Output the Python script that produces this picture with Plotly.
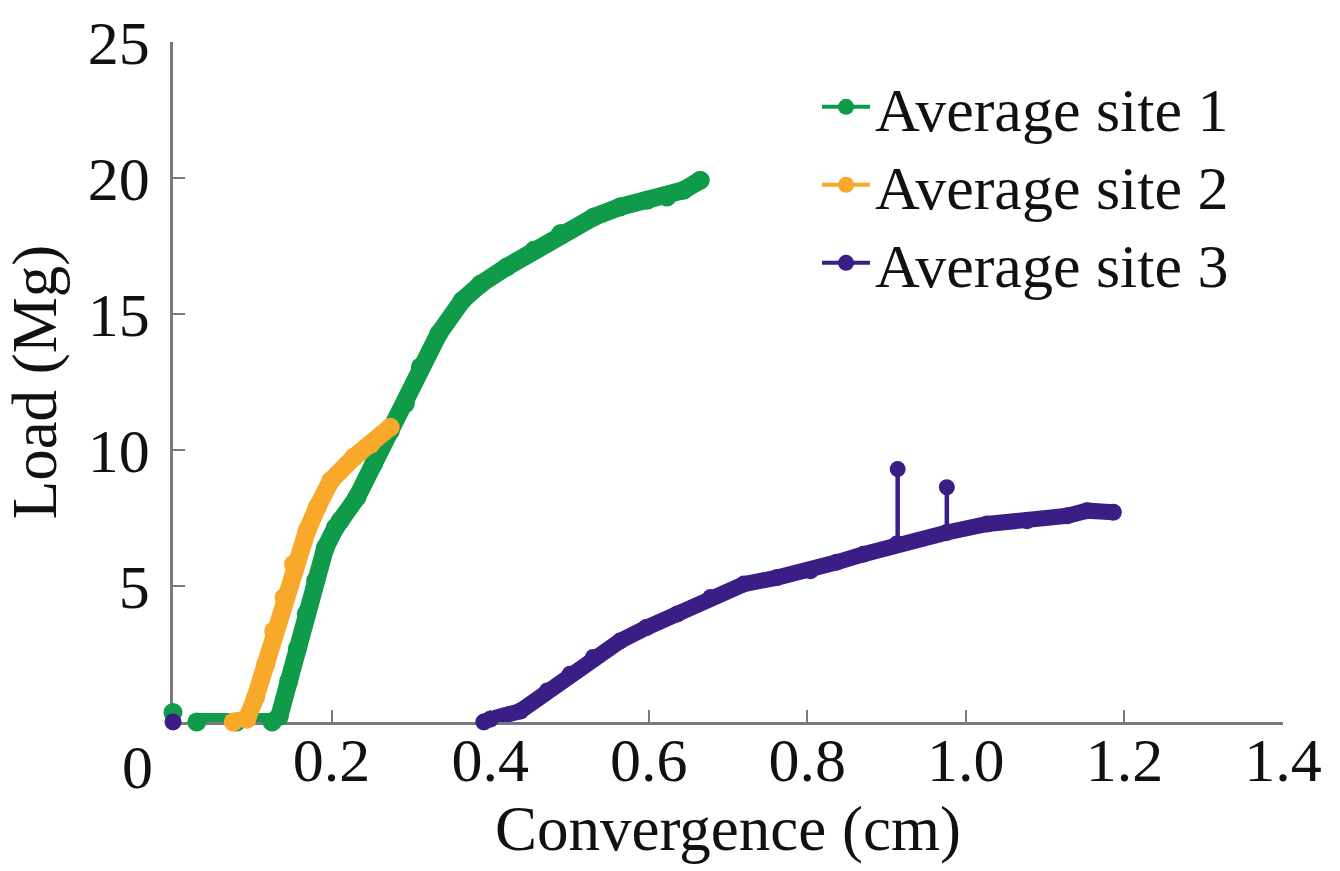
import plotly.graph_objects as go

# Load–convergence readings for the three monitoring sites (None breaks the line)
site1_x = [0.0, None, 0.030, 0.080, 0.125, 0.134, 0.146, 0.157, 0.168, 0.180, 0.192, 0.205,
           0.211, 0.232, 0.253, 0.274, 0.293, 0.312, 0.335, 0.365, 0.388, 0.421,
           0.455, 0.489, 0.531, 0.564, 0.598, 0.623, 0.644, 0.665]
site1_y = [0.35, None, 0.0, 0.0, 0.0, 0.2, 1.5, 2.7, 3.97, 5.2, 6.4, 7.15,
           7.4, 8.26, 9.49, 10.7, 11.7, 13.05, 14.27, 15.5, 16.1, 16.73,
           17.34, 17.96, 18.57, 18.94, 19.18, 19.3, 19.55, 19.92]

site2_x = [0.076, 0.093, 0.104, 0.117, 0.127, 0.140, 0.152, 0.169, 0.182, 0.199,
           0.228, 0.249, 0.274]
site2_y = [0.0, 0.1, 0.9, 2.12, 3.35, 4.58, 5.8, 7.03, 7.9, 8.87,
           9.73, 10.2, 10.84]

site3_x = [0.0, None, 0.392, 0.400, 0.438, 0.472, 0.501, 0.530, 0.564, 0.597, 0.636,
           0.678, 0.720, 0.762, 0.804, 0.837, 0.871, 0.913, 0.976, 1.027, 1.077,
           1.128, 1.153, 1.186]
site3_y = [0.0, None, 0.0, 0.1, 0.4, 1.14, 1.76, 2.37, 2.98, 3.47, 3.97,
           4.58, 5.07, 5.31, 5.56, 5.87, 6.17, 6.54, 6.97, 7.28, 7.40,
           7.58, 7.77, 7.71]

# Two isolated high readings at site 3 (base on the curve, peak value)
spike_x = [0.914, 0.976]
spike_base = [6.54, 6.97]
spike_peak = [9.30, 8.63]

x_ticks = [0.2, 0.4, 0.6, 0.8, 1.0, 1.2, 1.4]
x_tick_text = ["0.2", "0.4", "0.6", "0.8", "1.0", "1.2", "1.4"]
y_ticks = [5, 10, 15, 20, 25]

names = ["Average site 1", "Average site 2", "Average site 3"]
colors = ["#0f9b4a", "#f8a92a", "#3a1e86"]

FONT = "Liberation Serif"
TXT = "#111111"
AXIS = "#7a7a7a"

fig = go.Figure()

series = [(site1_x, site1_y, 18), (site2_x, site2_y, 18), (site3_x, site3_y, 16)]
for (xs, ys, w), c in zip(series, colors):
    fig.add_trace(go.Scatter(
        x=xs, y=ys, mode="lines+markers",
        line=dict(color=c, width=w),
        marker=dict(color=c, size=w + 1, opacity=1, line=dict(width=0)),
        cliponaxis=False, showlegend=False, hoverinfo="skip",
    ))

# Spikes: thin stem from the curve up to a dot at the peak reading
sx, sy = [], []
for x0, b, p in zip(spike_x, spike_base, spike_peak):
    sx += [x0, x0, None]
    sy += [b, p, None]
fig.add_trace(go.Scatter(
    x=sx, y=sy, mode="lines",
    line=dict(color=colors[2], width=4.5),
    cliponaxis=False, showlegend=False, hoverinfo="skip",
))
fig.add_trace(go.Scatter(
    x=spike_x, y=spike_peak, mode="markers",
    marker=dict(color=colors[2], size=16, opacity=1, line=dict(width=0)),
    cliponaxis=False, showlegend=False, hoverinfo="skip",
))

# Legend entries, one legend box per site
legend_ids = ["legend", "legend2", "legend3"]
for n, c, lid in zip(names, colors, legend_ids):
    fig.add_trace(go.Scatter(
        x=[None], y=[None], mode="lines+markers", name=n, legend=lid,
        line=dict(color=c, width=4),
        marker=dict(color=c, size=16, opacity=1),
    ))

def legend_box(ypix):
    return dict(
        x=0.5802, y=(722 - ypix) / 680, xanchor="left", yanchor="middle",
        bgcolor="rgba(0,0,0,0)", font=dict(family=FONT, size=62, color=TXT),
        itemwidth=48,
    )

fig.update_layout(
    width=1340, height=871,
    margin=dict(l=173, r=57, t=42, b=149),
    paper_bgcolor="white", plot_bgcolor="white",
    font=dict(family=FONT, size=62, color=TXT),
    showlegend=True,
    legend=legend_box(107),
    legend2=legend_box(185),
    legend3=legend_box(263),
    xaxis=dict(
        range=[0, 1.4], tickvals=x_ticks, ticktext=x_tick_text,
        ticks="inside", ticklen=12, tickwidth=2, tickcolor=AXIS,
        showline=True, linecolor=AXIS, linewidth=2.5,
        showgrid=False, zeroline=False, layer="below traces",
        tickfont=dict(family=FONT, size=62, color=TXT),
        ticklabelstandoff=-18,
        title=dict(text="Convergence (cm)", font=dict(family=FONT, size=63, color=TXT), standoff=6),
        automargin=False,
    ),
    yaxis=dict(
        range=[0, 25], tickvals=y_ticks,
        ticks="inside", ticklen=12, tickwidth=2, tickcolor=AXIS,
        showline=True, linecolor=AXIS, linewidth=2.5,
        showgrid=False, zeroline=False, layer="below traces",
        tickfont=dict(family=FONT, size=62, color=TXT),
        ticklabelstandoff=8,
        title=dict(text="Load (Mg)", font=dict(family=FONT, size=63, color=TXT), standoff=18),
        automargin=False,
    ),
    annotations=[dict(
        text="0", xref="paper", yref="paper", x=-0.0324, y=-0.066,
        xanchor="center", yanchor="middle", showarrow=False,
        font=dict(family=FONT, size=62, color=TXT),
    )],
)

fig.write_html("out.html")
